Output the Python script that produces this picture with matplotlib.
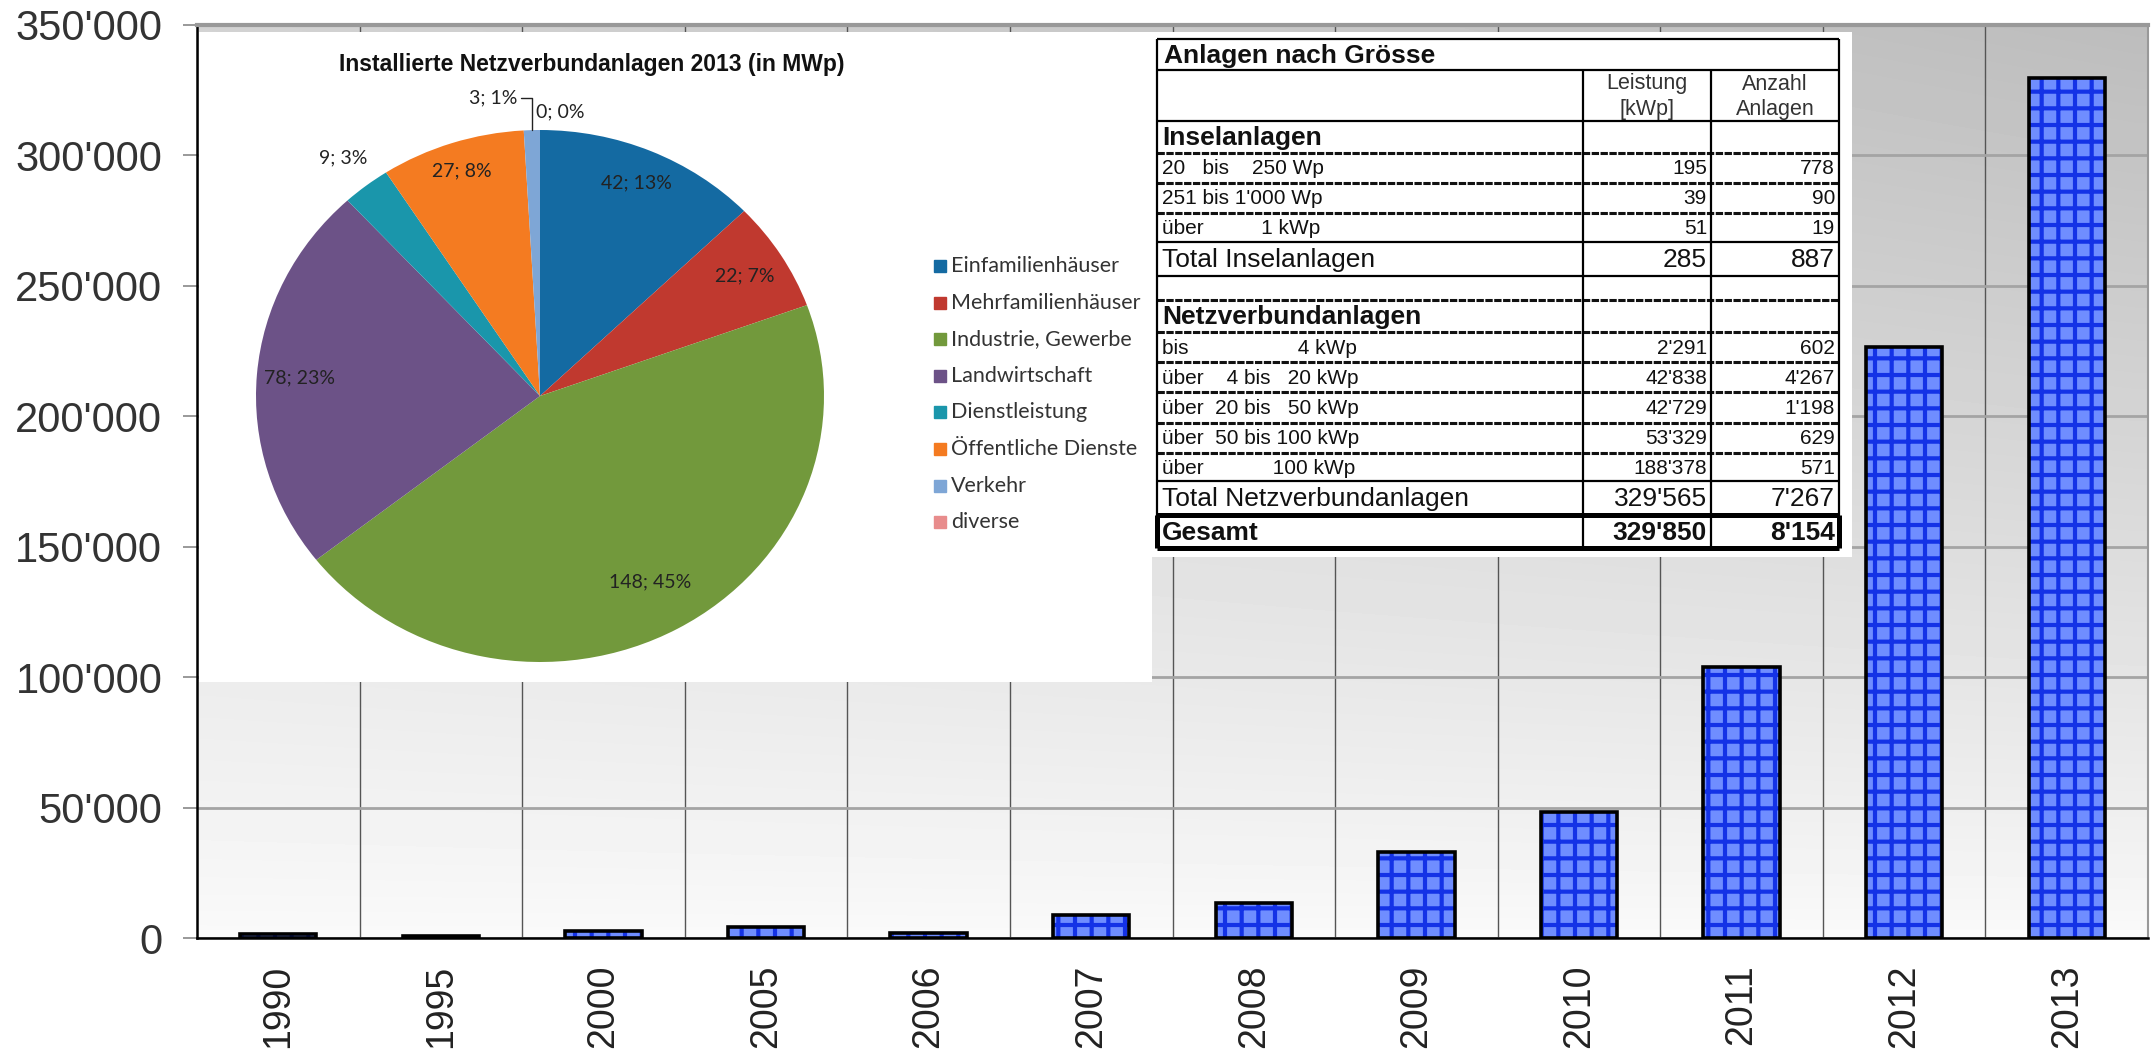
import matplotlib
matplotlib.use("Agg")
import matplotlib.pyplot as plt
import numpy as np

plt.rcParams['font.family'] = ['Liberation Sans', 'DejaVu Sans']
plt.rcParams['hatch.linewidth'] = 3.0

# bar chart: installed PV power per year (kWp)
years = ["1990", "1995", "2000", "2005", "2006", "2007", "2008", "2009", "2010", "2011", "2012", "2013"]
installed_kwp = [1500, 800, 2600, 4400, 2000, 8700, 13300, 32800, 48200, 103800, 226500, 329850]

# pie: grid-connected installations 2013 (MWp)
pie_labels = ["Einfamilienhäuser", "Mehrfamilienhäuser", "Industrie, Gewerbe", "Landwirtschaft",
              "Dienstleistung", "Öffentliche Dienste", "Verkehr", "diverse"]
pie_mwp = [42, 22, 148, 78, 9, 27, 3, 0]
pie_pct = [13, 7, 45, 23, 3, 8, 1, 0]
pie_colors = ["#146aa2", "#c0392f", "#72993c", "#6c5287", "#1a96ab", "#f47b21", "#7ea6d6", "#e88c8c"]

# table: Anlagen nach Grösse
insel_labels = ["20   bis    250 Wp", "251 bis 1'000 Wp", "über          1 kWp"]
insel_kwp = [195, 39, 51]
insel_count = [778, 90, 19]
insel_total = [285, 887]
netz_labels = ["bis                   4 kWp", "über    4 bis   20 kWp", "über  20 bis   50 kWp",
               "über  50 bis 100 kWp", "über            100 kWp"]
netz_kwp = [2291, 42838, 42729, 53329, 188378]
netz_count = [602, 4267, 1198, 629, 571]
netz_total = [329565, 7267]
gesamt = [329850, 8154]


def fmt(v):
    return f"{v:,}".replace(",", "'")


W, H = 2152, 1053
fig = plt.figure(figsize=(W / 100, H / 100), dpi=100)

# ---------------- main bar chart ----------------
ax = fig.add_axes([197 / W, 1 - 938 / H, (2148 - 197) / W, (938 - 25) / H])
x = np.arange(len(years))

gy, gx = np.mgrid[0:1:200j, 0:1:100j]
shade = 0.98 - 0.24 * gy ** 0.85 * (0.65 + 0.35 * gx)
ax.imshow(shade, extent=(-0.5, len(years) - 0.5, 0, 350000), origin='lower', aspect='auto',
          cmap='gray', vmin=0, vmax=1, zorder=0, interpolation='bilinear')

ax.bar(x, installed_kwp, width=0.47, color='#6f8dff', edgecolor='#1432e6', hatch='+',
       linewidth=0, zorder=2)
ax.bar(x, installed_kwp, width=0.47, fill=False, edgecolor='black', linewidth=2.6, zorder=3)

ax.set_xlim(-0.5, len(years) - 0.5)
ax.set_ylim(0, 350000)
ax.set_yticks(range(0, 350001, 50000))
ax.set_yticklabels([fmt(v) for v in range(0, 350001, 50000)])
ax.set_xticks(x)
ax.set_xticklabels(years, rotation=90)
ax.set_xticks(np.arange(0.5, len(years) - 0.5, 1), minor=True)

ax.set_axisbelow(True)
ax.yaxis.grid(True, color='#a4a4a4', linewidth=2.0)
ax.xaxis.grid(True, which='minor', color='#555555', linewidth=1.0)
ax.tick_params(axis='y', length=10, width=1.2, color='#888888', pad=15, labelsize=30,
               labelcolor='#333333')
ax.tick_params(axis='x', which='major', length=0, pad=19, labelsize=27, labelcolor='#222222')
ax.tick_params(axis='x', which='minor', length=0)
ax.spines['left'].set_linewidth(1.8)
ax.spines['bottom'].set_linewidth(1.8)
ax.spines['top'].set_color('#999999')
ax.spines['top'].set_linewidth(3)
ax.spines['right'].set_color('#999999')
ax.spines['right'].set_linewidth(1.5)
ax.set_zorder(1)

# ---------------- overlay (pixel coordinates) ----------------
ov = fig.add_axes([0, 0, 1, 1])
ov.set_xlim(0, W)
ov.set_ylim(H, 0)
ov.axis('off')
ov.set_zorder(2)

# white boxes for pie and table
ov.add_patch(plt.Rectangle((199, 32), 1152 - 199, 682 - 32, facecolor='white', edgecolor='none'))
ov.add_patch(plt.Rectangle((1152, 32), 1852 - 1152, 557 - 32, facecolor='white', edgecolor='none'))

# pie title and legend
ov.text(592, 65, "Installierte Netzverbundanlagen 2013 (in MWp)", fontsize=16.5,
        fontweight='bold', ha='center', va='center', color='#111111')
for i, (lab, col) in enumerate(zip(pie_labels, pie_colors)):
    ly = 266 + i * 36.6
    ov.plot(940, ly, marker='s', markersize=8.5, color=col, linestyle='none')
    ov.text(951, ly, lab, fontsize=15.5, family='Lato', ha='left', va='center', color='#333333')

# ---------------- table ----------------
tx0, tc1, tc2, tx1 = 1157, 1583, 1711, 1839
edges = [39, 70, 121, 153, 183, 213, 242, 276, 300, 332, 362, 392, 423, 453, 481, 515, 548]
row_text = []  # (label, kwp, count, size, weight)
row_text.append(("Anlagen nach Grösse", None, None, 19, 'bold'))
row_text.append((None, None, None, 15, 'normal'))
row_text.append(("Inselanlagen", None, None, 19, 'bold'))
for lab, kw, n in zip(insel_labels, insel_kwp, insel_count):
    row_text.append((lab, fmt(kw), fmt(n), 15, 'normal'))
row_text.append(("Total Inselanlagen", fmt(insel_total[0]), fmt(insel_total[1]), 19, 'normal'))
row_text.append((None, None, None, 15, 'normal'))
row_text.append(("Netzverbundanlagen", None, None, 19, 'bold'))
for lab, kw, n in zip(netz_labels, netz_kwp, netz_count):
    row_text.append((lab, fmt(kw), fmt(n), 15, 'normal'))
row_text.append(("Total Netzverbundanlagen", fmt(netz_total[0]), fmt(netz_total[1]), 19, 'normal'))
row_text.append(("Gesamt", fmt(gesamt[0]), fmt(gesamt[1]), 19, 'bold'))

below = ['solid', 'solid', 'dash', 'dash', 'dash', 'solid', 'solid', 'dash', 'dash',
         'dash', 'dash', 'dash', 'dash', 'solid', 'thick', 'thick']

for i, (lab, kw, n, size, weight) in enumerate(row_text):
    yc = (edges[i] + edges[i + 1]) / 2 + 1
    if lab:
        ov.text(tx0 + 7 if i == 0 else tx0 + 5, yc, lab, fontsize=size, fontweight=weight,
                ha='left', va='center', color='#111111')
    if kw:
        ov.text(tc2 - 4, yc, kw, fontsize=size, fontweight=weight, ha='right', va='center',
                color='#111111')
        ov.text(tx1 - 4, yc, n, fontsize=size, fontweight=weight, ha='right', va='center',
                color='#111111')
    yb = edges[i + 1]
    if below[i] == 'dash':
        ov.hlines(yb, tx0, tx1, colors='#111111', linewidth=2.2, linestyles=(0, (2.4, 0.5)))
    elif below[i] == 'thick':
        ov.hlines(yb, tx0, tx1, colors='black', linewidth=3.6)
    else:
        ov.hlines(yb, tx0, tx1, colors='black', linewidth=1.6)

ov.text((tc1 + tc2) / 2, (edges[1] + edges[2]) / 2 + 1, "Leistung\n[kWp]", fontsize=15.5,
        ha='center', va='center', color='#333333', linespacing=1.25)
ov.text((tc2 + tx1) / 2, (edges[1] + edges[2]) / 2 + 1, "Anzahl\nAnlagen", fontsize=15.5,
        ha='center', va='center', color='#333333', linespacing=1.25)

ov.hlines(edges[0], tx0, tx1, colors='black', linewidth=1.6)
ov.vlines([tx0, tx1], edges[0], edges[-1], colors='black', linewidth=1.6)
ov.vlines([tc1, tc2], edges[1], edges[-1], colors='black', linewidth=1.6)
ov.vlines([tx0, tx1], edges[-2], edges[-1], colors='black', linewidth=3.6)

# ---------------- pie ----------------
cx, cy, rx, ry = 540, 396, 284, 266
axp = fig.add_axes([(cx - rx) / W, 1 - (cy + ry) / H, 2 * rx / W, 2 * ry / H])
axp.set_zorder(3)
axp.pie(pie_mwp, colors=pie_colors, startangle=90, counterclock=False, radius=1,
        wedgeprops=dict(linewidth=0))
axp.set_aspect('auto')
axp.set_xlim(-1, 1)
axp.set_ylim(-1, 1)
axp.axis('off')

total = sum(pie_mwp)
cum = np.cumsum([0] + pie_mwp)
mid_deg = 90 - (cum[:-1] + np.array(pie_mwp) / 2) / total * 360
label_r = [0.87, 0.85, 0.80, 0.85, 1.13, 0.89]
for i, r in enumerate(label_r):
    a = np.deg2rad(mid_deg[i])
    axp.text(r * np.cos(a), r * np.sin(a), f"{pie_mwp[i]}; {pie_pct[i]}%", family='Lato',
             fontsize=14, ha='center', va='center', color='#222222', clip_on=False)

a = np.deg2rad(mid_deg[6])
axp.annotate(f"{pie_mwp[6]}; {pie_pct[6]}%", xy=(np.cos(a), np.sin(a)), xytext=(-0.08, 1.12),
             ha='right', va='center', family='Lato', fontsize=14, color='#222222',
             annotation_clip=False,
             arrowprops=dict(arrowstyle='-', color='#222222', lw=1.0, shrinkA=1, shrinkB=0,
                             connectionstyle='angle,angleA=0,angleB=90,rad=0'))
axp.text(-0.015, 1.07, f"{pie_mwp[7]}; {pie_pct[7]}%", ha='left', va='center', family='Lato',
         fontsize=14, color='#222222', clip_on=False)

fig.savefig("out.png", dpi=100)
